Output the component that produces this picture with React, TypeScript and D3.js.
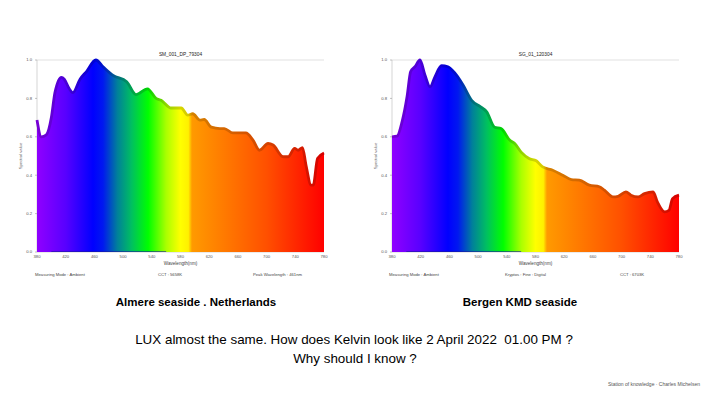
import React from 'react';
import * as d3 from 'd3';

// wavelength (nm) / relative value
const almereNm = [380, 386, 393, 400, 405, 414, 418, 425, 430, 440, 449, 462, 472, 486, 505, 518, 534, 546, 553, 567, 581, 590, 597, 607, 613, 623, 635, 641, 653, 671, 681, 690, 702, 709, 723, 730, 739, 744, 750, 755, 762, 765, 771, 780];
const almereVal = [0.687, 0.6, 0.61, 0.7, 0.83, 0.91, 0.9, 0.85, 0.83, 0.9, 0.94, 1.0, 0.965, 0.92, 0.887, 0.82, 0.85, 0.8, 0.79, 0.75, 0.75, 0.713, 0.72, 0.687, 0.69, 0.65, 0.643, 0.643, 0.62, 0.62, 0.583, 0.53, 0.565, 0.557, 0.496, 0.496, 0.54, 0.53, 0.544, 0.45, 0.348, 0.348, 0.487, 0.516];

const bergenNm = [380, 387, 394, 401, 406, 412, 419, 426, 433, 440, 449, 458, 468, 479, 491, 503, 512, 523, 532, 544, 551, 560, 571, 581, 590, 604, 618, 630, 641, 655, 669, 676, 688, 695, 706, 713, 723, 732, 744, 750, 760, 766, 771, 780];
const bergenVal = [0.6, 0.603, 0.678, 0.81, 0.94, 0.965, 1.0, 0.92, 0.86, 0.913, 0.97, 0.965, 0.93, 0.87, 0.79, 0.757, 0.73, 0.65, 0.643, 0.583, 0.565, 0.52, 0.487, 0.475, 0.443, 0.426, 0.4, 0.377, 0.374, 0.348, 0.34, 0.322, 0.287, 0.29, 0.313, 0.296, 0.287, 0.304, 0.313, 0.26, 0.209, 0.217, 0.278, 0.296];

const xTicks = [380, 420, 460, 500, 540, 580, 620, 660, 700, 740, 780];
const yTicks = [0, 0.2, 0.4, 0.6, 0.8, 1.0];

// spectrum colour stops
const stopNm = [380, 420, 458, 472, 492, 512, 535, 560, 580, 591, 596, 700, 780];
const stopColor = ['#9000ff', '#5800ff', '#0000ff', '#0018f0', '#00809a', '#00c060', '#00ff00', '#aaff00', '#ffff00', '#fff000', '#ff9a00', '#ff5000', '#ff0000'];

interface SpectrumProps {
  id: string;
  left: number;
  right: number;
  title: string;
  nm: number[];
  vals: number[];
  footer: [string, string, string];
  footerX: [number, number, number];
}

const top = 60;
const bottom = 252;
const tiny = 4.2;

const Spectrum = ({ id, left, right, title, nm, vals, footer, footerX }: SpectrumProps) => {
  const x = d3.scaleLinear().domain([380, 780]).range([left, right]);
  const y = d3.scaleLinear().domain([0, 1]).range([bottom, top]);
  const pts = nm.map((n, i) => [n, vals[i]] as [number, number]);
  const area = d3.area<[number, number]>().x(d => x(d[0])).y0(y(0)).y1(d => y(d[1])).curve(d3.curveMonotoneX);
  const line = d3.line<[number, number]>().x(d => x(d[0])).y(d => y(d[1])).curve(d3.curveMonotoneX);

  return (
    <g>
      <defs>
        <linearGradient id={`fill-${id}`} gradientUnits="userSpaceOnUse" x1={x(380)} x2={x(780)} y1={0} y2={0}>
          {stopNm.map((n, i) => (
            <stop key={i} offset={(n - 380) / 400} stopColor={stopColor[i]} />
          ))}
        </linearGradient>
        <linearGradient id={`edge-${id}`} gradientUnits="userSpaceOnUse" x1={x(380)} x2={x(780)} y1={0} y2={0}>
          {stopNm.map((n, i) => (
            <stop key={i} offset={(n - 380) / 400} stopColor={d3.color(stopColor[i])!.darker(0.5).formatHex()} />
          ))}
        </linearGradient>
      </defs>
      <text x={(left + right) / 2} y={top - 4} textAnchor="middle" fontSize={tiny + 0.6} fill="#222">{title}</text>
      <line x1={left} x2={right} y1={y(1)} y2={y(1)} stroke="#ccc" strokeWidth={0.6} />
      <line x1={left} x2={right} y1={y(0)} y2={y(0)} stroke="#bbb" strokeWidth={0.6} />
      <line x1={left} x2={left} y1={top} y2={bottom} stroke="#bbb" strokeWidth={0.6} />
      {yTicks.map(t => (
        <g key={t}>
          <line x1={left - 2} x2={left} y1={y(t)} y2={y(t)} stroke="#999" strokeWidth={0.6} />
          <text x={left - 5} y={y(t) + 1.4} textAnchor="end" fontSize={tiny} fill="#555">{t.toFixed(1)}</text>
        </g>
      ))}
      {xTicks.map(t => (
        <text key={t} x={x(t)} y={bottom + 6} textAnchor="middle" fontSize={tiny} fill="#555">{t}</text>
      ))}
      <path d={area(pts) ?? ''} fill={`url(#fill-${id})`} />
      <path d={line(pts) ?? ''} fill="none" stroke={`url(#edge-${id})`} strokeWidth={2.8} strokeLinejoin="round" />
      <line x1={x(400)} x2={x(560)} y1={bottom - 0.5} y2={bottom - 0.5} stroke="#1a1aa0" strokeWidth={1} opacity={0.6} />
      <text x={(left + right) / 2} y={bottom + 13} textAnchor="middle" fontSize={tiny + 0.4} fill="#444">Wavelength(nm)</text>
      <text transform={`translate(${left - 15},${(top + bottom) / 2}) rotate(-90)`} textAnchor="middle" fontSize={tiny} fill="#666">Spectral value</text>
      {footer.map((f, i) => (
        <text key={i} x={footerX[i]} y={bottom + 24} fontSize={tiny} fill="#444">{f}</text>
      ))}
    </g>
  );
};

export default function App() {
  return (
    <svg width={709} height={398} style={{ display: 'block', position: 'absolute', left: 0, top: 0, background: '#fff' }} fontFamily="'Liberation Sans', Arial, sans-serif">
      <rect width={709} height={398} fill="#fff" />
      <Spectrum id="a" left={37} right={324} title="SM_001_DP_79304" nm={almereNm} vals={almereVal}
        footer={['Measuring Mode : Ambient', 'CCT : 5658K', 'Peak Wavelength : 461nm']} footerX={[35, 158, 253]} />
      <Spectrum id="b" left={392} right={679} title="SG_01_120304" nm={bergenNm} vals={bergenVal}
        footer={['Measuring Mode : Ambient', 'Kryptos : Fine : Digital', 'CCT : 6703K']} footerX={[389, 505, 620]} />
      <g fontWeight="bold" fontSize={11.5} fill="#000">
        <text x={196} y={306} textAnchor="middle">Almere seaside . Netherlands</text>
        <text x={520} y={306} textAnchor="middle">Bergen KMD seaside</text>
      </g>
      <text x={354} y={344} textAnchor="middle" fontSize={13.4} fill="#000" style={{ whiteSpace: 'pre' }}>LUX almost the same. How does Kelvin look like 2 April 2022  01.00 PM ?</text>
      <text x={355} y={363} textAnchor="middle" fontSize={13.4} fill="#000">Why should I know ?</text>
      <text x={700} y={386} textAnchor="end" fontSize={5} fill="#555">Station of knowledge · Charles Michelsen</text>
    </svg>
  );
}
